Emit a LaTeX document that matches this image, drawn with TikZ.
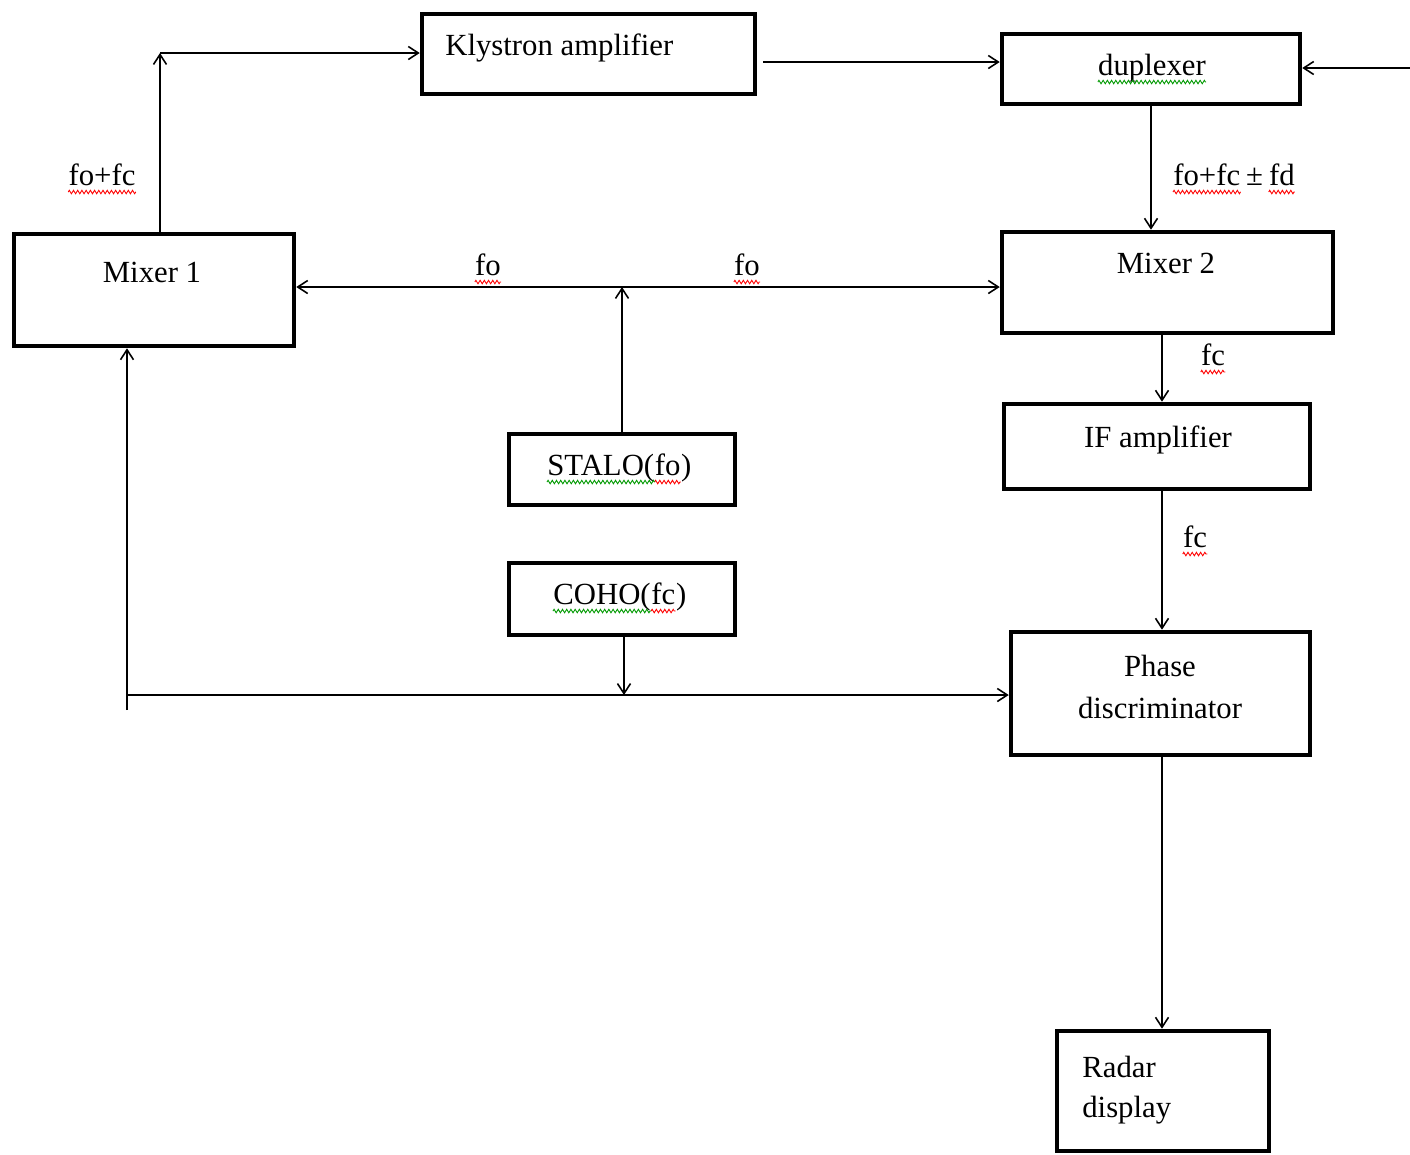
\documentclass[tikz,border=0pt]{standalone}
\usepackage{fontspec}
\setmainfont{Liberation Serif}
\usetikzlibrary{arrows.meta,decorations.pathmorphing}

\tikzset{
    blk/.style={draw, line width=2.6pt, inner sep=0pt},
    sig/.style={-{Straight Barb[length=2mm,width=2.6mm]}, line width=0.9pt},
    txt/.style={anchor=base, inner sep=0pt, font=\fontsize{17.5}{21}\selectfont},
    wave/.style={draw=#1, line width=0.5pt, decorate,
        decoration={zigzag, segment length=2.4pt, amplitude=1pt}},
}

\begin{document}
\begin{tikzpicture}[x=0.02cm,y=-0.02cm]
    \useasboundingbox (0,0) rectangle (1410,1154);

    %blocchi
    \node[blk, minimum width=6.66cm, minimum height=1.6cm] (kly) at (588.5,54) {};
    \node[blk, minimum width=5.96cm, minimum height=1.4cm] (dup) at (1151,69) {};
    \node[blk, minimum width=5.6cm, minimum height=2.24cm] (mix1) at (154,290) {};
    \node[blk, minimum width=6.62cm, minimum height=2.02cm] (mix2) at (1167.5,282.5) {};
    \node[blk, minimum width=6.12cm, minimum height=1.7cm] (ifa) at (1157,446.5) {};
    \node[blk, minimum width=5.98cm, minimum height=2.46cm] (pd) at (1160.5,693.5) {};
    \node[blk, minimum width=4.24cm, minimum height=2.4cm] (rad) at (1163,1091) {};
    \node[blk, minimum width=4.52cm, minimum height=1.42cm] (stalo) at (622,469.5) {};
    \node[blk, minimum width=4.52cm, minimum height=1.44cm] (coho) at (622,599) {};

    %testi
    \node[txt, anchor=base west] (klytxt) at (445,55) {Klystron amplifier};
    \node[txt] (duptxt) at (1152,75) {duplexer};
    \node[txt] (mix1txt) at (152,282) {Mixer 1};
    \node[txt] (mix2txt) at (1166,273) {Mixer 2};
    \node[txt] (ifatxt) at (1158,447) {IF amplifier};
    \node[txt] (pdtxt1) at (1160,676) {Phase};
    \node[txt] (pdtxt2) at (1160,718) {discriminator};
    \node[txt, anchor=base west] (radtxt1) at (1082,1077) {Radar};
    \node[txt, anchor=base west] (radtxt2) at (1082,1117) {display};
    \node[txt, anchor=base west] (st1) at (547,475) {STALO(};
    \node[txt, anchor=base west] (st2) at (st1.base east) {fo};
    \node[txt, anchor=base west] (st3) at (st2.base east) {)};
    \node[txt, anchor=base west] (co1) at (553,604) {COHO(};
    \node[txt, anchor=base west] (co2) at (co1.base east) {fc};
    \node[txt, anchor=base west] (co3) at (co2.base east) {)};

    %etichette
    \node[txt] (sumlbl) at (102,185) {fo+fc};
    \node[txt, anchor=base west] (dp1) at (1173,185) {fo+fc};
    \node[txt, anchor=base west] (dp2) at (dp1.base east) {\kern3pt±\kern3pt};
    \node[txt, anchor=base west] (dp3) at (dp2.base east) {fd};
    \node[txt] (fo1) at (488,275) {fo};
    \node[txt] (fo2) at (747,275) {fo};
    \node[txt] (fc1) at (1213,365) {fc};
    \node[txt] (fc2) at (1195,547) {fc};

    %sottolineature
    \foreach \n in {sumlbl,dp1,dp3,fo1,fo2,fc1,fc2,st2,co2}
        \draw[wave=red] ([yshift=-4pt]\n.base west) -- ([yshift=-4pt]\n.base east);
    \foreach \n in {duptxt,st1,co1}
        \draw[wave=green!60!black] ([yshift=-4pt]\n.base west) -- ([yshift=-4pt]\n.base east);

    %punti
    \coordinate (c1) at (160,53);
    \coordinate (k1) at (763,62);
    \coordinate (ant) at (1410,68);
    \coordinate (j1) at (622,287);
    \coordinate (j2) at (624,695);
    \coordinate (j3) at (127,695);
    \coordinate (tail) at (127,710);
    \coordinate (x1) at (1162,0);

    %collegamenti
    \draw[sig] (mix1.north -| c1) -- (c1);
    \draw[sig] (c1) -- (c1 -| kly.west);
    \draw[sig] (k1) -- (k1 -| dup.west);
    \draw[sig] (ant) -- (ant -| dup.east);
    \draw[sig] (dup.south) -- (dup.south |- mix2.north);
    \draw[sig] (stalo.north) -- (j1);
    \draw[sig] (j1) -- (j1 -| mix1.east);
    \draw[sig] (j1) -- (j1 -| mix2.west);
    \draw[sig] (mix2.south -| x1) -- (ifa.north -| x1);
    \draw[sig] (ifa.south -| x1) -- (pd.north -| x1);
    \draw[sig] (pd.south -| x1) -- (rad.north -| x1);
    \draw[sig] (coho.south -| j2) -- (j2);
    \draw[sig] (j3) -- (j3 -| pd.west);
    \draw[sig] (tail) -- (tail |- mix1.south);
\end{tikzpicture}
\end{document}
